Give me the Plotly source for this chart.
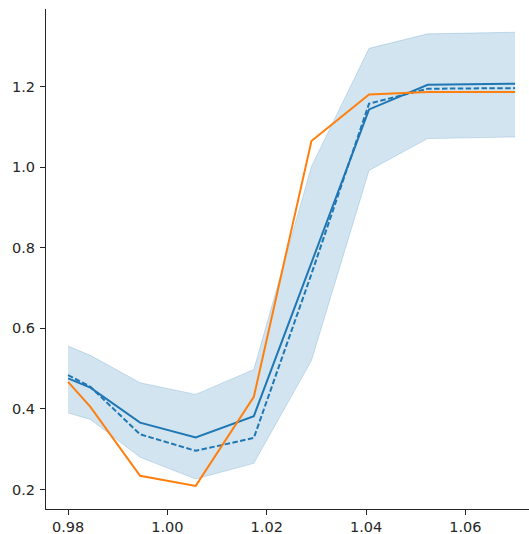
import plotly.graph_objects as go

x = [0.98, 0.9845, 0.9945, 1.0057, 1.0174, 1.029, 1.0406, 1.0524, 1.07]
mean_solid = [0.476, 0.453, 0.366, 0.329, 0.382, 0.765, 1.1435, 1.2047, 1.2072]
median_dashed = [0.484, 0.455, 0.337, 0.296, 0.328, 0.735, 1.1577, 1.1948, 1.1963]
band_upper = [0.556, 0.533, 0.465, 0.436, 0.498, 1.002, 1.295, 1.331, 1.335]
band_lower = [0.390, 0.374, 0.280, 0.226, 0.265, 0.520, 0.992, 1.071, 1.075]
orange = [0.467, 0.405, 0.234, 0.209, 0.430, 1.065, 1.1807, 1.1864, 1.1864]

xticks = [0.98, 1.00, 1.02, 1.04, 1.06]
yticks = [0.2, 0.4, 0.6, 0.8, 1.0, 1.2]

blue = "#1f77b4"
org = "#ff7f0e"

fig = go.Figure()
fig.add_trace(go.Scatter(x=x, y=band_upper, mode="lines",
                         line=dict(color="rgba(31,119,180,0.2)", width=1),
                         showlegend=False, hoverinfo="skip"))
fig.add_trace(go.Scatter(x=x, y=band_lower, mode="lines", fill="tonexty",
                         fillcolor="rgba(31,119,180,0.2)",
                         line=dict(color="rgba(31,119,180,0.2)", width=1),
                         showlegend=False, hoverinfo="skip"))
fig.add_trace(go.Scatter(x=x, y=mean_solid, mode="lines",
                         line=dict(color=blue, width=2), showlegend=False))
fig.add_trace(go.Scatter(x=x, y=median_dashed, mode="lines",
                         line=dict(color=blue, width=2, dash="5.5px,2.4px"),
                         showlegend=False))
fig.add_trace(go.Scatter(x=x, y=orange, mode="lines",
                         line=dict(color=org, width=2), showlegend=False))

tickfont = dict(family="DejaVu Sans", size=14.5, color="#262626")
fig.update_layout(
    width=529, height=534,
    margin=dict(l=46, r=0, t=8.5, b=25, pad=0, autoexpand=False),
    paper_bgcolor="white", plot_bgcolor="white",
    xaxis=dict(range=[0.97556, 1.0728], tickvals=xticks,
               ticktext=[f"{v:.2f}" for v in xticks],
               showgrid=False, zeroline=False, showline=True, automargin=False,
               linecolor="#262626", linewidth=1, ticks="outside",
               ticklen=5, tickwidth=1, tickcolor="#262626", tickfont=tickfont,
               ticklabelstandoff=0),
    yaxis=dict(range=[0.1516, 1.3927], tickvals=yticks,
               ticktext=[f"{v:.1f}" for v in yticks],
               showgrid=False, zeroline=False, showline=True, automargin=False,
               linecolor="#262626", linewidth=1, ticks="outside",
               ticklen=5, tickwidth=1, tickcolor="#262626", tickfont=tickfont,
               ticklabelstandoff=2),
)
fig.write_html("out.html")
